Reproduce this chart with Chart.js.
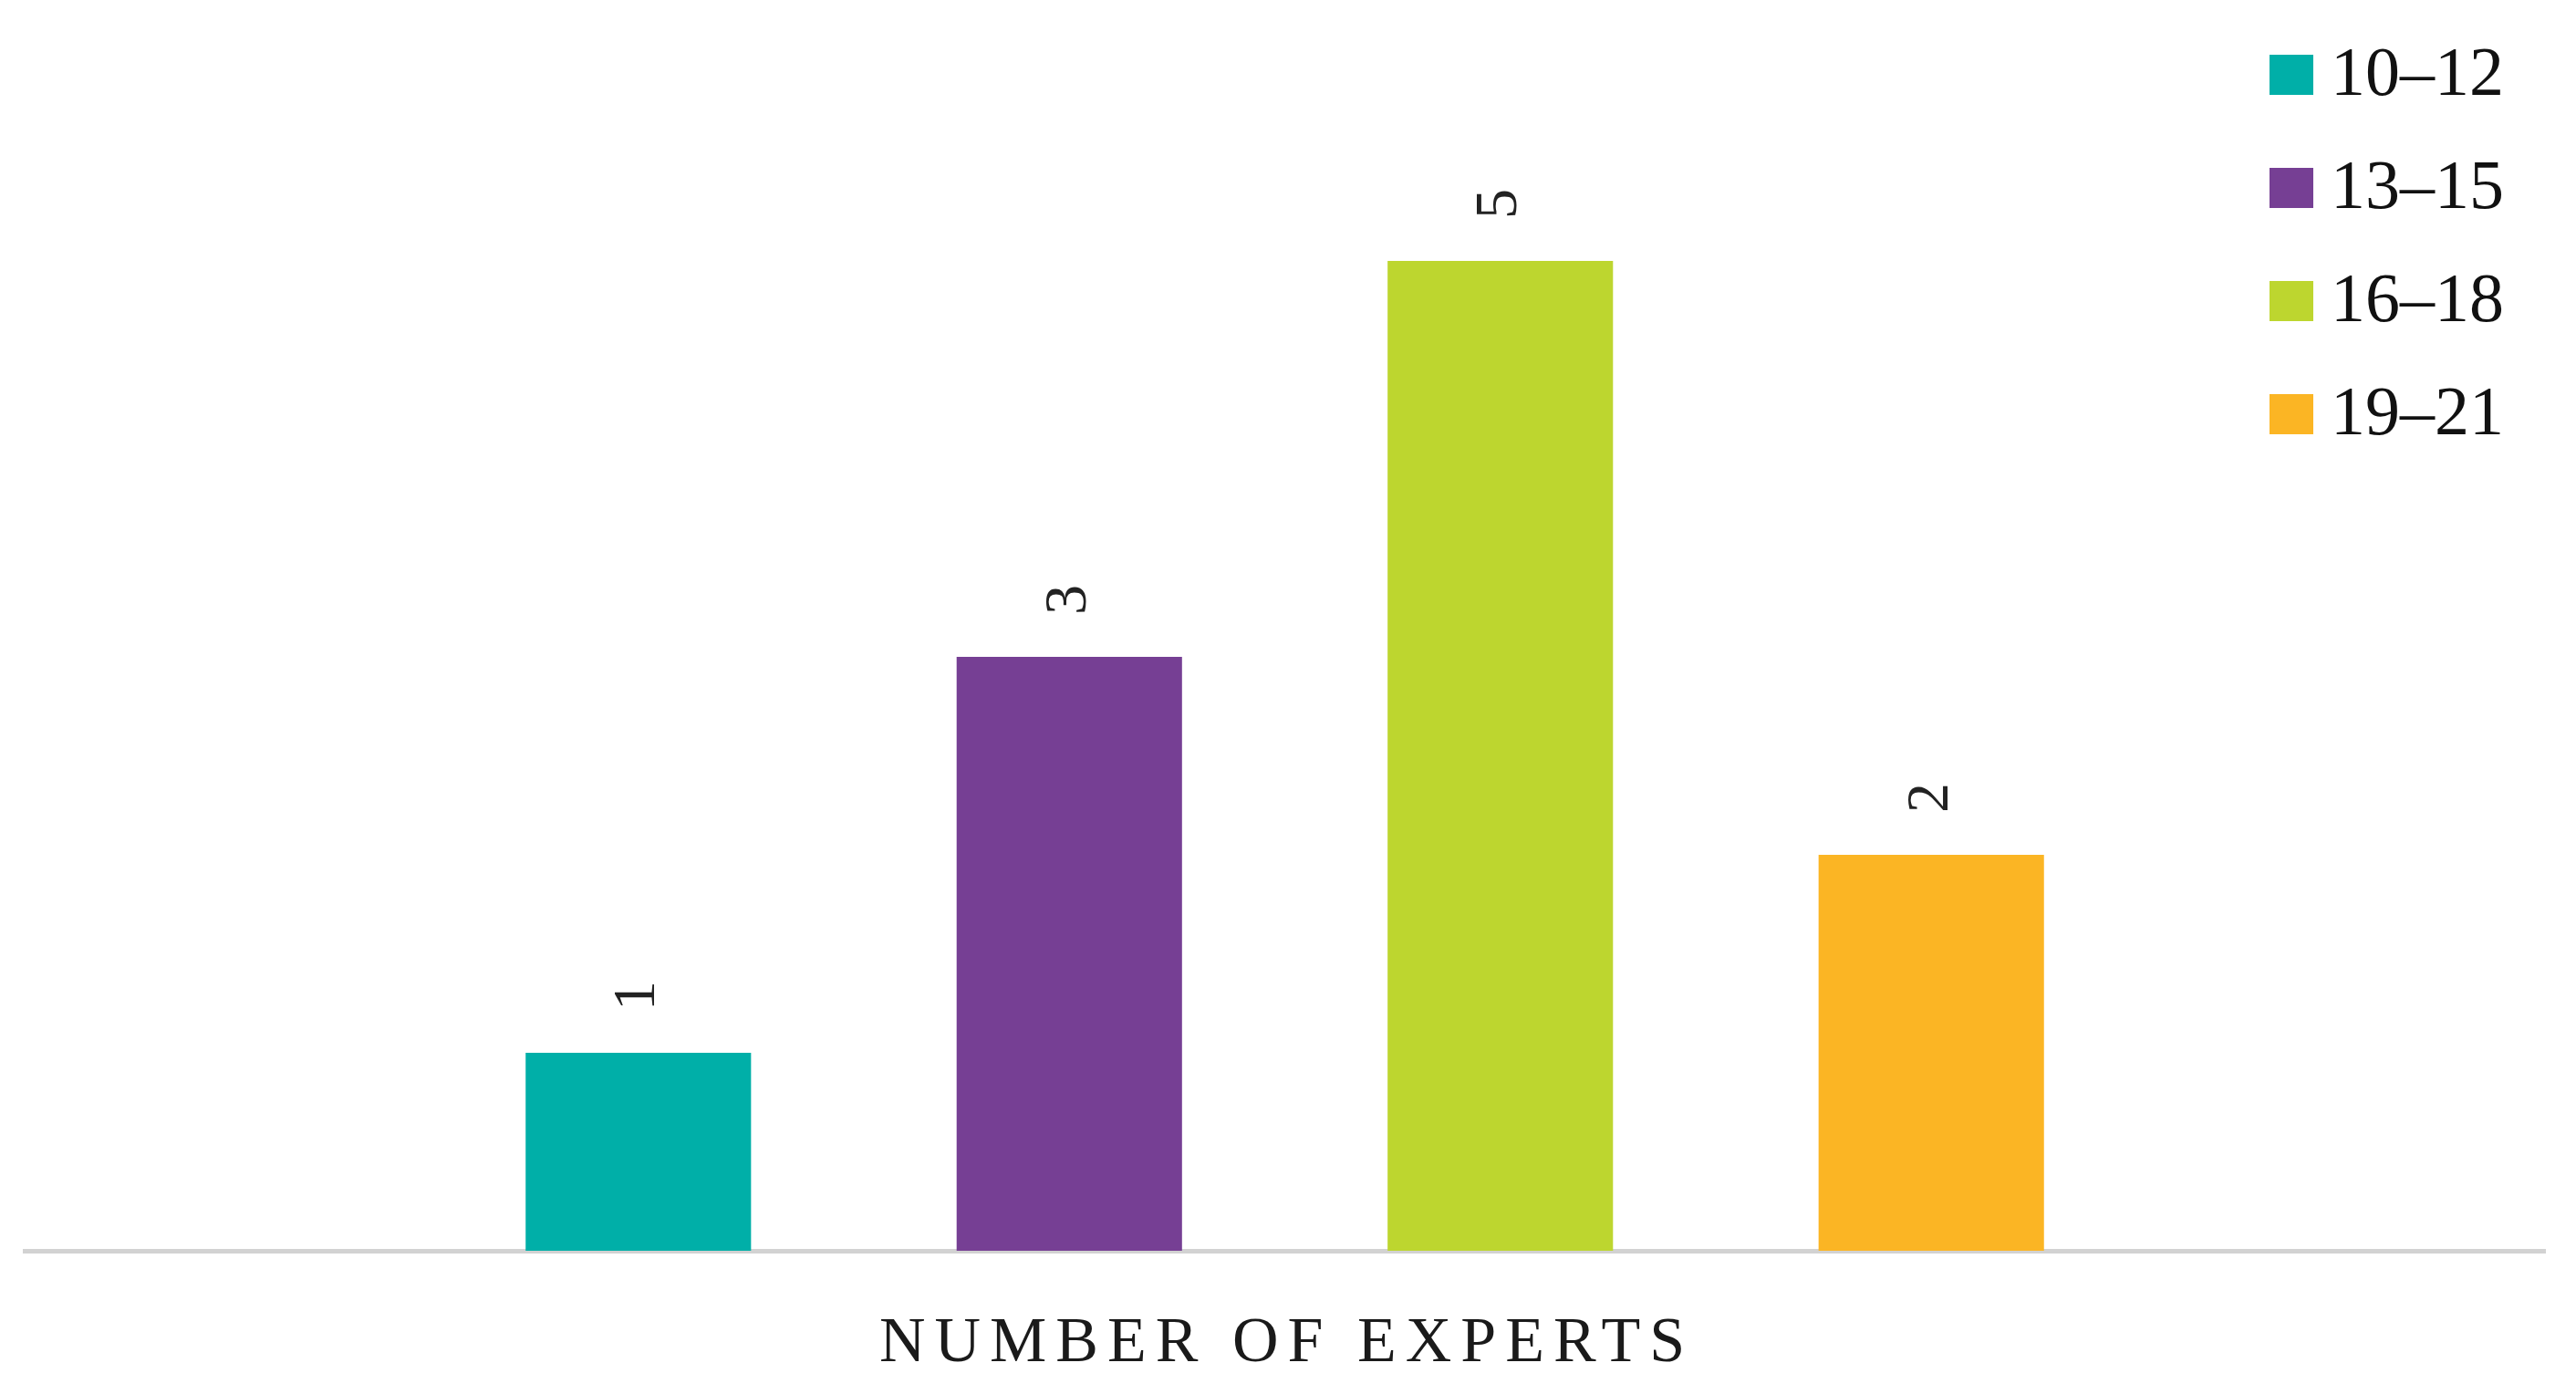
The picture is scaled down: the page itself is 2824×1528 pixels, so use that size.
<!DOCTYPE html>
<html>
<head>
<meta charset="utf-8">
<script src="https://cdn.jsdelivr.net/npm/chart.js@4.4.1/dist/chart.umd.min.js"></script>
<style>
  html, body { margin: 0; padding: 0; background: #fff; }
  #wrap { width: 2824px; height: 1528px; position: relative; }
</style>
</head>
<body>
<div id="wrap"><canvas id="expertsChart"></canvas></div>
<script>
// data
const categories = [''];
const seriesLabels = ['10–12', '13–15', '16–18', '19–21'];
const seriesValues = [1, 3, 5, 2];
const seriesColors = ['#00AFA8', '#763F94', '#BDD62F', '#FBB524'];
const axisTitle = 'NUMBER OF EXPERTS';
const yMax = 6;

const serif = '"Liberation Serif", "DejaVu Serif", serif';

/* ---- rotated value labels above bars ---- */
const barLabels = {
  id: 'barLabels',
  afterDatasetsDraw(chart) {
    const ctx = chart.ctx;
    chart.data.datasets.forEach((ds, i) => {
      const meta = chart.getDatasetMeta(i);
      meta.data.forEach((bar, j) => {
        ctx.save();
        ctx.translate(bar.x, bar.y - 46);
        ctx.rotate(-Math.PI / 2);
        ctx.font = '66px ' + serif;
        ctx.fillStyle = '#222';
        ctx.textAlign = 'left';
        ctx.textBaseline = 'middle';
        ctx.fillText(String(ds.data[j]), 0, 0);
        ctx.restore();
      });
    });
  }
};

/* ---- legend (stacked, top right, over the plot) ---- */
const sideLegend = {
  id: 'sideLegend',
  afterDraw(chart) {
    const ctx = chart.ctx;
    ctx.save();
    chart.data.datasets.forEach((ds, i) => {
      const top = 60 + i * 124;
      ctx.fillStyle = ds.backgroundColor;
      ctx.fillRect(2488, top, 48, 44);
      ctx.fillStyle = '#111';
      ctx.font = '76px ' + serif;
      ctx.textAlign = 'left';
      ctx.textBaseline = 'middle';
      ctx.fillText(ds.label, 2555, top + 24);
    });
    ctx.restore();
  }
};

/* ---- spaced-out axis title ---- */
const spacedTitle = {
  id: 'spacedTitle',
  afterDraw(chart) {
    const ctx = chart.ctx;
    const area = chart.chartArea;
    ctx.save();
    ctx.font = '70px ' + serif;
    ctx.fillStyle = '#1a1a1a';
    ctx.letterSpacing = '10px';
    ctx.textAlign = 'center';
    ctx.textBaseline = 'middle';
    ctx.fillText(axisTitle, (area.left + area.right) / 2 + 2, 1474);
    ctx.restore();
  }
};

const canvas = document.getElementById('expertsChart');
new Chart(canvas, {
  type: 'bar',
  data: {
    labels: categories,
    datasets: seriesLabels.map((label, i) => ({
      label,
      data: [seriesValues[i]],
      backgroundColor: seriesColors[i],
      borderWidth: 0,
      categoryPercentage: 0.684,
      barPercentage: 0.523
    }))
  },
  options: {
    responsive: true,
    maintainAspectRatio: false,
    animation: false,
    layout: { padding: { left: 27, right: 34, top: 69, bottom: 149 } },
    plugins: {
      legend: { display: false },
      tooltip: { enabled: false }
    },
    scales: {
      x: {
        grid: { display: false },
        ticks: { display: false },
        border: { display: true, color: '#d2d2d2', width: 5 }
      },
      y: {
        display: false,
        min: 0,
        max: yMax
      }
    }
  },
  plugins: [barLabels, sideLegend, spacedTitle]
});
</script>
</body>
</html>
